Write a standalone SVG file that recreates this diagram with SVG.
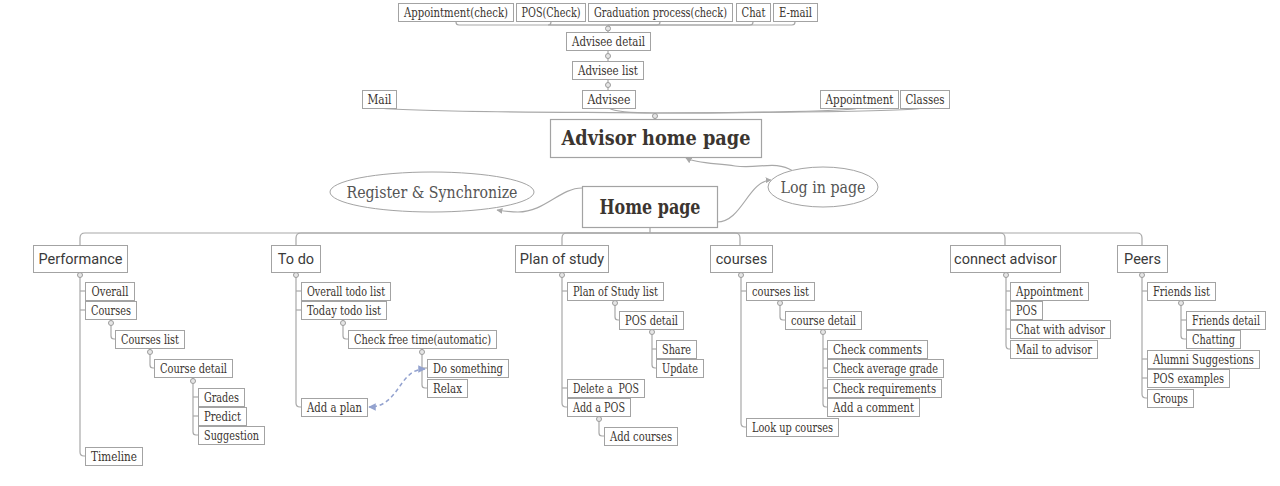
<svg xmlns="http://www.w3.org/2000/svg" width="1280" height="486" viewBox="0 0 1280 486">
<style>
.n rect{fill:#fff;stroke:#a3a3a3;stroke-width:1}
.n text{font-family:"DejaVu Serif","Liberation Serif",serif;font-size:12.2px;fill:#3b3530;text-anchor:middle}
.b rect{fill:#fff;stroke:#a3a3a3;stroke-width:1}
.b text{font-family:Roboto,"Liberation Sans",sans-serif;font-size:14.5px;fill:#3a3a3a;text-anchor:middle}
.m rect{fill:#fff;stroke:#a3a3a3;stroke-width:1.2}
.m text{font-family:"DejaVu Serif","Liberation Serif",serif;font-weight:bold;fill:#3b3530;text-anchor:middle}
.e ellipse{fill:#fff;stroke:#a3a3a3;stroke-width:1}
.e text{font-family:"DejaVu Serif","Liberation Serif",serif;font-size:16px;fill:#555;text-anchor:middle}
.c path{fill:none;stroke:#a8a8a8;stroke-width:1.2}
.c circle{fill:#e6e6e6;stroke:#9c9c9c;stroke-width:1}
.c path.dash{stroke:#93a2cf;stroke-width:1.5;stroke-dasharray:4 3}
</style>
<defs>
<marker id="ah" viewBox="0 0 10 10" refX="9" refY="5" markerWidth="5" markerHeight="5" orient="auto-start-reverse"><path d="M0,0 L10,5 L0,10 z" fill="#a8a8a8"/></marker>
<marker id="bh" viewBox="0 0 10 10" refX="9" refY="5" markerWidth="5" markerHeight="5" orient="auto-start-reverse"><path d="M0,0 L10,5 L0,10 z" fill="#93a2cf"/></marker>
</defs>
<rect width="1280" height="486" fill="#fff"/>

<g id="connectors" class="c">
<path d="M608,25 H459 Q456,25 456,22 V21"/>
<path d="M608,25 H548 Q551,25 551,22 V21"/>
<path d="M608,25 H657 Q660,25 660,22 V21"/>
<path d="M608,25 H750 Q753,25 753,22 V21"/>
<path d="M608,25 H792 Q795,25 795,22 V21"/>
<path d="M608,25 V32"/>
<circle cx="608" cy="28.5" r="2.5"/>
<path d="M608,50 V61"/><circle cx="608" cy="56" r="2.5"/>
<path d="M608,79 V90"/><circle cx="608" cy="85" r="2.5"/>
<path d="M378,108 C430,113 600,112 655,113"/>
<path d="M609,108 C615,112 630,113 655,113"/>
<path d="M858,108 C850,112 700,113 655,113"/>
<path d="M922,108 C912,112 700,113 655,113"/>
<path d="M655,113 V119"/>
<circle cx="655" cy="116" r="2.5"/>
<path d="M793,171 C775,160 760,169 735,166 C712,163 695,163 686,158" marker-end="url(#ah)"/>
<path d="M582,188 C560,188 545,212 518,212 C510,212 503,211 497,210" marker-end="url(#ah)"/>
<path d="M717,222 C742,222 748,181 771,180" marker-end="url(#ah)"/>
<path d="M650,227 V233"/>
<path d="M650,233 H85 Q80,233 80,238 V245"/>
<path d="M650,233 H301 Q296,233 296,238 V245"/>
<path d="M650,233 H567 Q562,233 562,238 V245"/>
<path d="M650,233 H735 Q740,233 740,238 V245"/>
<path d="M650,233 H1000 Q1005,233 1005,238 V245"/>
<path d="M650,233 H1137 Q1142,233 1142,238 V245"/>
<path d="M80,272 V452 Q80,456 84,456 H85"/>
<path d="M80,291 H85"/><path d="M80,310 H85"/>
<circle cx="80" cy="275" r="2.5"/>
<path d="M111,319 V336 Q111,339 114,339 H115"/><circle cx="111" cy="323" r="2.5"/>
<path d="M150,348 V365 Q150,368 153,368 H154"/><circle cx="150" cy="352" r="2.5"/>
<path d="M193,377 V432 Q193,435 196,435 H198"/><path d="M193,397 H198"/><path d="M193,416 H198"/><circle cx="193" cy="381" r="2.5"/>
<path d="M296,272 V403 Q296,407 300,407 H301"/>
<path d="M296,291 H301"/><path d="M296,310 H301"/>
<circle cx="296" cy="275" r="2.5"/>
<path d="M343,319 V336 Q343,339 346,339 H348"/><circle cx="343" cy="323" r="2.5"/>
<path d="M422,348 V385 Q422,388 425,388 H427"/><path d="M422,368 H427"/><circle cx="422" cy="352" r="2.5"/>
<path class="dash" d="M425,369 C398,369 400,407 369,407" marker-start="url(#bh)" marker-end="url(#bh)"/>
<path d="M562,272 V403 Q562,407 566,407 H567"/>
<path d="M562,291 H567"/><path d="M562,388 H567"/>
<circle cx="562" cy="275" r="2.5"/>
<path d="M615,300 V317 Q615,320 618,320 H619"/><circle cx="615" cy="303" r="2.5"/>
<path d="M652,329 V365 Q652,368 655,368 H656"/><path d="M652,349 H656"/><circle cx="652" cy="332" r="2.5"/>
<path d="M599,416 V433 Q599,436 602,436 H604"/><circle cx="599" cy="419" r="2.5"/>
<path d="M741,272 V423 Q741,427 745,427 H746"/>
<path d="M741,291 H746"/>
<circle cx="741" cy="275" r="2.5"/>
<path d="M780,300 V317 Q780,320 783,320 H785"/><circle cx="780" cy="303" r="2.5"/>
<path d="M823,329 V404 Q823,407 826,407 H827"/><path d="M823,349 H827"/><path d="M823,368 H827"/><path d="M823,388 H827"/><circle cx="823" cy="332" r="2.5"/>
<path d="M1006,272 V345 Q1006,349 1009,349 H1010"/>
<path d="M1006,291 H1010"/><path d="M1006,310 H1010"/><path d="M1006,329 H1010"/>
<circle cx="1006" cy="275" r="2.5"/>
<path d="M1142,272 V394 Q1142,398 1146,398 H1147"/>
<path d="M1142,291 H1147"/><path d="M1142,359 H1147"/><path d="M1142,378 H1147"/>
<circle cx="1142" cy="275" r="2.5"/>
<path d="M1181,300 V336 Q1181,339 1184,339 H1186"/><path d="M1181,320 H1186"/><circle cx="1181" cy="303" r="2.5"/>
</g>

<g id="n-appt-check" class="n"><rect x="398.5" y="3.5" width="115" height="18"/><text x="456" y="16.5" textLength="104" lengthAdjust="spacingAndGlyphs">Appointment(check)</text></g>
<g id="n-pos-check" class="n"><rect x="516.5" y="3.5" width="69" height="18"/><text x="551" y="16.5" textLength="59" lengthAdjust="spacingAndGlyphs">POS(Check)</text></g>
<g id="n-grad" class="n"><rect x="588.5" y="3.5" width="144" height="18"/><text x="660.5" y="16.5" textLength="133" lengthAdjust="spacingAndGlyphs">Graduation process(check)</text></g>
<g id="n-chat" class="n"><rect x="736.5" y="3.5" width="34" height="18"/><text x="753.5" y="16.5" textLength="24" lengthAdjust="spacingAndGlyphs">Chat</text></g>
<g id="n-email" class="n"><rect x="773.5" y="3.5" width="44" height="18"/><text x="795.5" y="16.5" textLength="33" lengthAdjust="spacingAndGlyphs">E-mail</text></g>
<g id="n-advisee-detail" class="n"><rect x="566.5" y="32.5" width="84" height="18"/><text x="608.5" y="45.5" textLength="73" lengthAdjust="spacingAndGlyphs">Advisee detail</text></g>
<g id="n-advisee-list" class="n"><rect x="572.5" y="61.5" width="71" height="18"/><text x="608" y="74.5" textLength="60" lengthAdjust="spacingAndGlyphs">Advisee list</text></g>
<g id="n-advisee" class="n"><rect x="582.5" y="90.5" width="53" height="18"/><text x="609" y="103.5" textLength="43" lengthAdjust="spacingAndGlyphs">Advisee</text></g>
<g id="n-mail" class="n"><rect x="362.5" y="90.5" width="34" height="18"/><text x="379.5" y="103.5" textLength="24" lengthAdjust="spacingAndGlyphs">Mail</text></g>
<g id="n-appointment" class="n"><rect x="820.5" y="90.5" width="78" height="18"/><text x="859.5" y="103.5" textLength="68" lengthAdjust="spacingAndGlyphs">Appointment</text></g>
<g id="n-classes" class="n"><rect x="900.5" y="90.5" width="49" height="18"/><text x="925" y="103.5" textLength="39" lengthAdjust="spacingAndGlyphs">Classes</text></g>

<g id="n-advisor-home" class="m"><rect x="550.5" y="119.5" width="211" height="38"/><text x="656" y="145" font-size="20.5" textLength="189" lengthAdjust="spacingAndGlyphs">Advisor home page</text></g>
<g id="n-home" class="m"><rect x="582.5" y="186.5" width="135" height="41"/><text x="650" y="214" font-size="19.5" textLength="101" lengthAdjust="spacingAndGlyphs">Home page</text></g>
<g id="n-register" class="e"><ellipse cx="432" cy="192" rx="102" ry="20"/><text x="432" y="197.5" textLength="171" lengthAdjust="spacingAndGlyphs">Register &amp; Synchronize</text></g>
<g id="n-login" class="e"><ellipse cx="823" cy="187" rx="55" ry="20"/><text x="823" y="192.5" textLength="85" lengthAdjust="spacingAndGlyphs">Log in page</text></g>

<g id="b-performance" class="b"><rect x="33.5" y="245.5" width="94" height="27"/><text x="80.5" y="264">Performance</text></g>
<g id="b-todo" class="b"><rect x="271.5" y="245.5" width="49" height="27"/><text x="296" y="264">To do</text></g>
<g id="b-plan" class="b"><rect x="515.5" y="245.5" width="93" height="27"/><text x="562" y="264">Plan of study</text></g>
<g id="b-courses" class="b"><rect x="710.5" y="245.5" width="62" height="27"/><text x="741.5" y="264">courses</text></g>
<g id="b-connect" class="b"><rect x="950.5" y="245.5" width="110" height="27"/><text x="1005.5" y="264">connect advisor</text></g>
<g id="b-peers" class="b"><rect x="1117.5" y="245.5" width="50" height="27"/><text x="1142.5" y="264">Peers</text></g>

<g id="n-overall" class="n"><rect x="85.5" y="282.5" width="49" height="18"/><text x="110" y="295.5" textLength="37" lengthAdjust="spacingAndGlyphs">Overall</text></g>
<g id="n-courses" class="n"><rect x="85.5" y="301.5" width="51" height="18"/><text x="111" y="314.5" textLength="40" lengthAdjust="spacingAndGlyphs">Courses</text></g>
<g id="n-courses-list" class="n"><rect x="115.5" y="330.5" width="69" height="18"/><text x="150" y="343.5" textLength="58" lengthAdjust="spacingAndGlyphs">Courses list</text></g>
<g id="n-course-detail-p" class="n"><rect x="154.5" y="359.5" width="78" height="18"/><text x="193.5" y="372.5" textLength="67" lengthAdjust="spacingAndGlyphs">Course detail</text></g>
<g id="n-grades" class="n"><rect x="198.5" y="388.5" width="46" height="18"/><text x="221.5" y="401.5" textLength="35" lengthAdjust="spacingAndGlyphs">Grades</text></g>
<g id="n-predict" class="n"><rect x="198.5" y="407.5" width="48" height="18"/><text x="222.5" y="420.5" textLength="37" lengthAdjust="spacingAndGlyphs">Predict</text></g>
<g id="n-suggestion" class="n"><rect x="198.5" y="426.5" width="66" height="18"/><text x="231.5" y="439.5" textLength="55" lengthAdjust="spacingAndGlyphs">Suggestion</text></g>
<g id="n-timeline" class="n"><rect x="85.5" y="447.5" width="57" height="18"/><text x="114" y="460.5" textLength="46" lengthAdjust="spacingAndGlyphs">Timeline</text></g>

<g id="n-overall-todo" class="n"><rect x="301.5" y="282.5" width="89" height="18"/><text x="346" y="295.5" textLength="78" lengthAdjust="spacingAndGlyphs">Overall todo list</text></g>
<g id="n-today-todo" class="n"><rect x="301.5" y="301.5" width="85" height="18"/><text x="344" y="314.5" textLength="74" lengthAdjust="spacingAndGlyphs">Today todo list</text></g>
<g id="n-check-free" class="n"><rect x="348.5" y="330.5" width="148" height="18"/><text x="422.5" y="343.5" textLength="137" lengthAdjust="spacingAndGlyphs">Check free time(automatic)</text></g>
<g id="n-do-something" class="n"><rect x="427.5" y="359.5" width="81" height="18"/><text x="468" y="372.5" textLength="70" lengthAdjust="spacingAndGlyphs">Do something</text></g>
<g id="n-relax" class="n"><rect x="427.5" y="379.5" width="40" height="18"/><text x="447.5" y="392.5" textLength="29" lengthAdjust="spacingAndGlyphs">Relax</text></g>
<g id="n-add-plan" class="n"><rect x="301.5" y="398.5" width="66" height="18"/><text x="334.5" y="411.5" textLength="55" lengthAdjust="spacingAndGlyphs">Add a plan</text></g>

<g id="n-pos-list" class="n"><rect x="567.5" y="282.5" width="96" height="18"/><text x="615.5" y="295.5" textLength="85" lengthAdjust="spacingAndGlyphs">Plan of Study list</text></g>
<g id="n-pos-detail" class="n"><rect x="619.5" y="311.5" width="64" height="18"/><text x="651.5" y="324.5" textLength="53" lengthAdjust="spacingAndGlyphs">POS detail</text></g>
<g id="n-share" class="n"><rect x="656.5" y="340.5" width="40" height="18"/><text x="676.5" y="353.5" textLength="29" lengthAdjust="spacingAndGlyphs">Share</text></g>
<g id="n-update" class="n"><rect x="656.5" y="359.5" width="47" height="18"/><text x="680" y="372.5" textLength="36" lengthAdjust="spacingAndGlyphs">Update</text></g>
<g id="n-delete-pos" class="n"><rect x="567.5" y="379.5" width="77" height="18"/><text x="606" y="392.5" textLength="66" lengthAdjust="spacingAndGlyphs" xml:space="preserve">Delete a  POS</text></g>
<g id="n-add-pos" class="n"><rect x="567.5" y="398.5" width="63" height="18"/><text x="599" y="411.5" textLength="52" lengthAdjust="spacingAndGlyphs">Add a POS</text></g>
<g id="n-add-courses" class="n"><rect x="604.5" y="427.5" width="73" height="18"/><text x="641" y="440.5" textLength="62" lengthAdjust="spacingAndGlyphs">Add courses</text></g>

<g id="n-courses-list2" class="n"><rect x="746.5" y="282.5" width="68" height="18"/><text x="780.5" y="295.5" textLength="57" lengthAdjust="spacingAndGlyphs">courses list</text></g>
<g id="n-course-detail" class="n"><rect x="785.5" y="311.5" width="76" height="18"/><text x="823.5" y="324.5" textLength="65" lengthAdjust="spacingAndGlyphs">course detail</text></g>
<g id="n-check-comments" class="n"><rect x="827.5" y="340.5" width="100" height="18"/><text x="877.5" y="353.5" textLength="89" lengthAdjust="spacingAndGlyphs">Check comments</text></g>
<g id="n-check-avg" class="n"><rect x="827.5" y="359.5" width="116" height="18"/><text x="885.5" y="372.5" textLength="105" lengthAdjust="spacingAndGlyphs">Check average grade</text></g>
<g id="n-check-req" class="n"><rect x="827.5" y="379.5" width="114" height="18"/><text x="884.5" y="392.5" textLength="103" lengthAdjust="spacingAndGlyphs">Check requirements</text></g>
<g id="n-add-comment" class="n"><rect x="827.5" y="398.5" width="92" height="18"/><text x="873.5" y="411.5" textLength="81" lengthAdjust="spacingAndGlyphs">Add a comment</text></g>
<g id="n-lookup" class="n"><rect x="746.5" y="418.5" width="92" height="18"/><text x="792.5" y="431.5" textLength="81" lengthAdjust="spacingAndGlyphs">Look up courses</text></g>

<g id="n-ca-appt" class="n"><rect x="1010.5" y="282.5" width="78" height="18"/><text x="1049.5" y="295.5" textLength="67" lengthAdjust="spacingAndGlyphs">Appointment</text></g>
<g id="n-ca-pos" class="n"><rect x="1010.5" y="301.5" width="32" height="18"/><text x="1026.5" y="314.5" textLength="21" lengthAdjust="spacingAndGlyphs">POS</text></g>
<g id="n-ca-chat" class="n"><rect x="1010.5" y="320.5" width="100" height="18"/><text x="1060.5" y="333.5" textLength="89" lengthAdjust="spacingAndGlyphs">Chat with advisor</text></g>
<g id="n-ca-mail" class="n"><rect x="1010.5" y="340.5" width="87" height="18"/><text x="1054" y="353.5" textLength="76" lengthAdjust="spacingAndGlyphs">Mail to advisor</text></g>

<g id="n-friends-list" class="n"><rect x="1147.5" y="282.5" width="68" height="18"/><text x="1181.5" y="295.5" textLength="57" lengthAdjust="spacingAndGlyphs">Friends list</text></g>
<g id="n-friends-detail" class="n"><rect x="1186.5" y="311.5" width="79" height="18"/><text x="1226" y="324.5" textLength="68" lengthAdjust="spacingAndGlyphs">Friends detail</text></g>
<g id="n-chatting" class="n"><rect x="1186.5" y="330.5" width="54" height="18"/><text x="1213.5" y="343.5" textLength="43" lengthAdjust="spacingAndGlyphs">Chatting</text></g>
<g id="n-alumni" class="n"><rect x="1147.5" y="350.5" width="112" height="18"/><text x="1203.5" y="363.5" textLength="101" lengthAdjust="spacingAndGlyphs">Alumni Suggestions</text></g>
<g id="n-pos-examples" class="n"><rect x="1147.5" y="369.5" width="82" height="18"/><text x="1188.5" y="382.5" textLength="71" lengthAdjust="spacingAndGlyphs">POS examples</text></g>
<g id="n-groups" class="n"><rect x="1147.5" y="389.5" width="46" height="18"/><text x="1170.5" y="402.5" textLength="35" lengthAdjust="spacingAndGlyphs">Groups</text></g>
</svg>
